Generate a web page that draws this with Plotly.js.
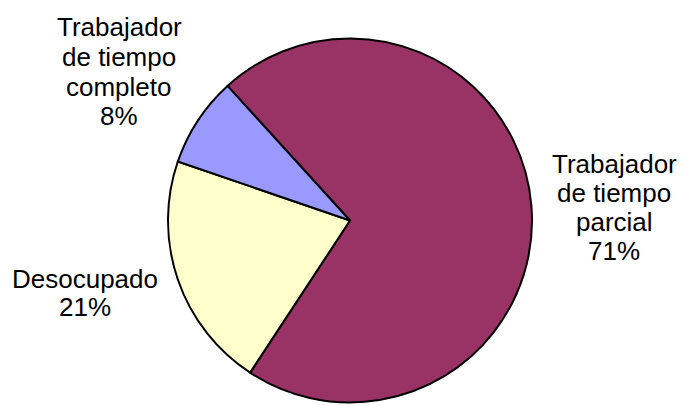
<!DOCTYPE html>
<html>
<head>
<meta charset="utf-8">
<script src="https://cdn.plot.ly/plotly-3.0.1.min.js"></script>
<style>html,body{margin:0;padding:0;background:#fff;}#chart{width:684px;height:405px;}</style>
</head>
<body>
<div id="chart"></div>
<script>
// ---- data ----
var categories = [
  ['Trabajador', 'de tiempo', 'parcial'],
  ['Desocupado'],
  ['Trabajador', 'de tiempo', 'completo']
];
var values = [71, 21, 8];
var colors = ['#993366', '#FFFFCC', '#9999FF'];

// ---- layout settings ----
var W = 684, H = 405;
var cx = 350, cy = 220.5, r = 182;
var FONT = 'Arial, "Liberation Sans", sans-serif';
var FS = 26;
// label placement (pixel centre x, first baseline y, line step)
var labelPos = [
  {x: 614, y: 173.5, step: 28.7},
  {x: 85, y: 288.3, step: 27.5},
  {x: 119, y: 36.2, step: 29.7}
];

var total = values.reduce(function (a, b) { return a + b; }, 0);

var trace = {
  type: 'pie',
  labels: categories.map(function (c) { return c.join(' '); }),
  values: values,
  sort: false,
  direction: 'clockwise',
  rotation: -42.3,
  marker: {colors: colors, line: {color: '#000000', width: 2}},
  textinfo: 'none',
  hoverinfo: 'none',
  domain: {x: [(cx - r) / W, (cx + r) / W], y: [(H - cy - r) / H, (H - cy + r) / H]}
};

var annotations = [];
categories.forEach(function (lines, i) {
  var all = lines.concat([Math.round(values[i] / total * 100) + '%']);
  var p = labelPos[i];
  all.forEach(function (t, j) {
    var baseline = p.y + j * p.step;
    var centre = baseline - 0.3465 * FS;
    annotations.push({
      xref: 'paper', yref: 'paper',
      x: p.x / W, y: 1 - centre / H,
      xanchor: 'center', yanchor: 'middle',
      text: t, showarrow: false,
      font: {family: FONT, size: FS, color: '#000000'}
    });
  });
});

var layout = {
  width: W, height: H,
  margin: {l: 0, r: 0, t: 0, b: 0},
  showlegend: false,
  paper_bgcolor: '#ffffff',
  annotations: annotations,
  font: {family: FONT, size: FS, color: '#000000'}
};

Plotly.newPlot('chart', [trace], layout, {displayModeBar: false, staticPlot: true});
</script>
</body>
</html>
